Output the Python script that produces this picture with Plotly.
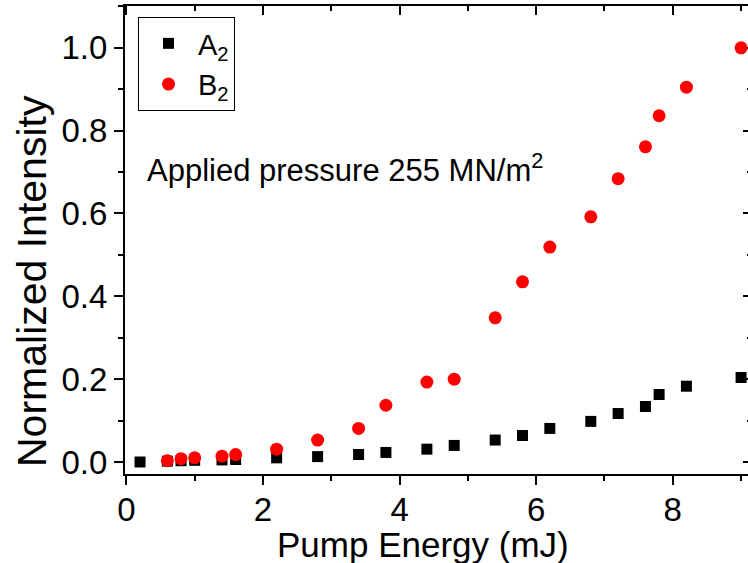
import plotly.graph_objects as go

# Data
x_a2 = [0.2, 0.6, 0.8, 1.0, 1.4, 1.6, 2.2, 2.8, 3.4, 3.8, 4.4, 4.8, 5.4, 5.8, 6.2, 6.8, 7.2, 7.6, 7.8, 8.2, 9.0]
y_a2 = [0.000, 0.002, 0.003, 0.004, 0.005, 0.006, 0.010, 0.013, 0.018, 0.023, 0.031, 0.040, 0.053, 0.064, 0.081, 0.098, 0.117, 0.134, 0.163, 0.183, 0.204]
x_b2 = [0.6, 0.8, 1.0, 1.4, 1.6, 2.2, 2.8, 3.4, 3.8, 4.4, 4.8, 5.4, 5.8, 6.2, 6.8, 7.2, 7.6, 7.8, 8.2, 9.0]
y_b2 = [0.003, 0.008, 0.010, 0.014, 0.018, 0.031, 0.053, 0.081, 0.137, 0.193, 0.200, 0.348, 0.435, 0.519, 0.592, 0.684, 0.761, 0.836, 0.905, 1.000]
x_ticks = [0, 2, 4, 6, 8]
y_ticks = [0.0, 0.2, 0.4, 0.6, 0.8, 1.0]
y_tick_labels = ["0.0", "0.2", "0.4", "0.6", "0.8", "1.0"]

FONT = "Liberation Sans, Arial, sans-serif"
XR = [-0.02, 9.16]
YR = [-0.029, 1.101]

# plot-area geometry (px); the figure is a bit wider than the window so the
# right frame line falls just outside the visible picture, as in the reference
W, H = 753, 563
L, R, T, B = 125, 1, 6, 89
PW, PH = W - L - R, H - T - B


def px(xp):
    return (xp - L) / PW


def py(yp):
    return 1 - (yp - T) / PH


fig = go.Figure()
fig.add_trace(go.Scatter(x=x_a2, y=y_a2, mode="markers", name="A<sub>2</sub>",
                         marker=dict(symbol="square", size=11, color="black", line=dict(width=0))))
fig.add_trace(go.Scatter(x=x_b2, y=y_b2, mode="markers", name="B<sub>2</sub>",
                         marker=dict(symbol="circle", size=13, color="#ff0000", line=dict(width=0))))
# invisible trace to activate mirrored axes with inside ticks
fig.add_trace(go.Scatter(x=[XR[0]], y=[YR[0]], xaxis="x2", yaxis="y2", mode="markers",
                         marker=dict(opacity=0), showlegend=False, hoverinfo="skip"))

common = dict(showgrid=False, zeroline=False, showline=True, linecolor="black", linewidth=2,
              tickcolor="black", tickwidth=2, ticklen=9, layer="below traces")

fig.update_layout(
    width=W, height=H,
    margin=dict(l=L, r=R, t=T, b=B, autoexpand=False),
    paper_bgcolor="white", plot_bgcolor="white",
    font=dict(family=FONT, color="black"),
    xaxis=dict(range=XR, tickvals=x_ticks, ticks="outside", ticklabelstandoff=-4,
               tickfont=dict(size=33),
               minor=dict(dtick=1, ticks="outside", ticklen=5, tickwidth=2, tickcolor="black"),
               automargin=False, **common),
    yaxis=dict(range=YR, tickvals=y_ticks, ticktext=y_tick_labels, ticks="outside",
               tickfont=dict(size=33),
               minor=dict(dtick=0.1, ticks="outside", ticklen=5, tickwidth=2, tickcolor="black"),
               automargin=False, **common),
    xaxis2=dict(range=XR, overlaying="x", side="top", tickvals=x_ticks, ticks="inside",
                showticklabels=False,
                minor=dict(dtick=1, ticks="inside", ticklen=5, tickwidth=2, tickcolor="black"),
                **common),
    yaxis2=dict(range=YR, overlaying="y", side="right", tickvals=y_ticks, ticks="inside",
                showticklabels=False,
                minor=dict(dtick=0.1, ticks="inside", ticklen=5, tickwidth=2, tickcolor="black"),
                **common),
    legend=dict(x=px(138), y=py(17), xanchor="left", yanchor="top",
                bordercolor="black", borderwidth=1, bgcolor="white",
                font=dict(size=29, family=FONT), itemwidth=49, tracegroupgap=0),
    annotations=[
        dict(text="Applied pressure 255 MN/m<sup>2</sup>", xref="paper", yref="paper",
             x=px(145), y=py(168), xanchor="left", yanchor="middle",
             showarrow=False, font=dict(size=31, family=FONT)),
        dict(text="Pump Energy (mJ)", xref="paper", yref="paper",
             x=px(423), y=py(544), xanchor="center", yanchor="middle",
             showarrow=False, font=dict(size=35, family=FONT)),
        dict(text="Normalized Intensity", xref="paper", yref="paper", textangle=-90,
             x=px(32), y=py(281), xanchor="center", yanchor="middle",
             showarrow=False, font=dict(size=41, family=FONT)),
    ],
    showlegend=True,
)

fig.write_html("out.html", config={"displayModeBar": False},
               post_script="document.body.style.margin='0';document.body.style.overflow='hidden';")
